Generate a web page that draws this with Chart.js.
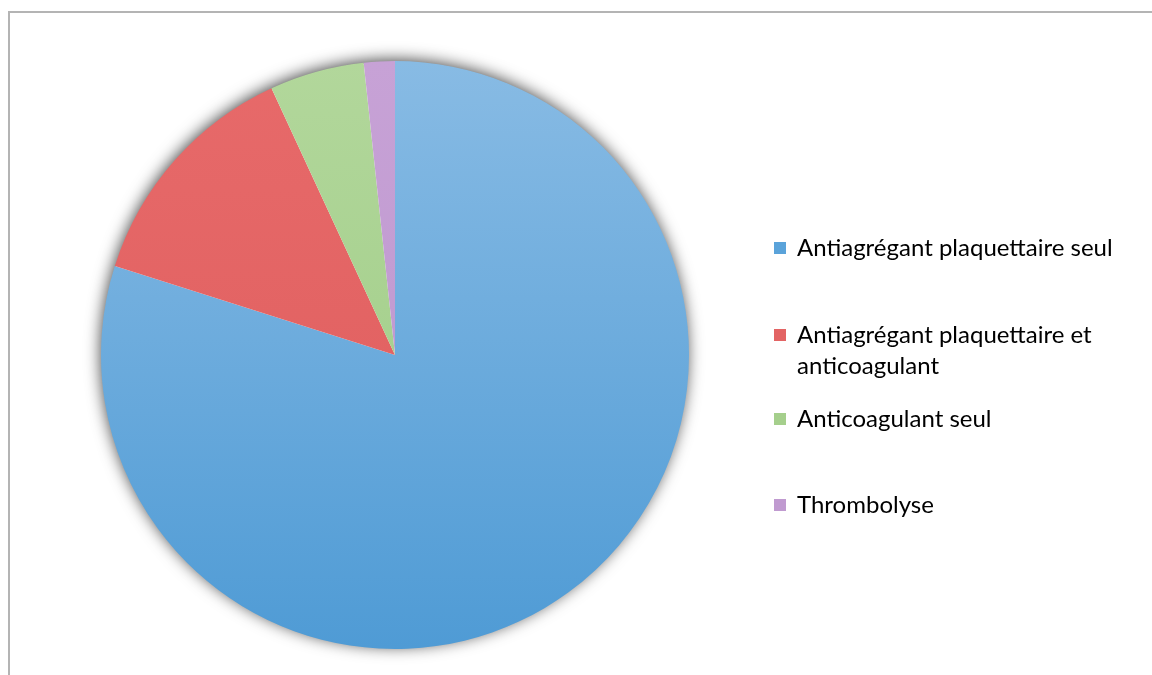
<!DOCTYPE html>
<html>
<head>
<meta charset="utf-8">
<script src="https://cdn.jsdelivr.net/npm/chart.js@4"></script>
<style>
  html, body { margin: 0; padding: 0; background: #fff; }
  #wrap { width: 1152px; height: 675px; position: relative; }
</style>
</head>
<body>
<div id="wrap"><canvas id="pie"></canvas></div>
<script>
const labels = [
  'Antiagrégant plaquettaire seul',
  'Antiagrégant plaquettaire et anticoagulant',
  'Anticoagulant seul',
  'Thrombolyse'
]
const values = [79.9, 13.2, 5.2, 1.7]
// legend lines (wrapped like the original)
const legendLines = [
  ['Antiagrégant plaquettaire seul'],
  ['Antiagrégant plaquettaire et', 'anticoagulant'],
  ['Anticoagulant seul'],
  ['Thrombolyse']
]
const topColors = ['#88bbe4', '#e76a6a', '#b2d79b', '#c7a2d6']
const bottomColors = ['#4f9bd5', '#de5c5c', '#9ccb83', '#bb93cc']
const legendColors = ['#5aa3da', '#e36464', '#a5cf8c', '#c09ad0']

const fontFamily = 'Lato, "Open Sans", sans-serif'

const sliceFill = (ctx) => {
  const chart = ctx.chart
  const area = chart.chartArea
  if (!area) return topColors[ctx.dataIndex]
  const g = chart.ctx.createLinearGradient(0, area.top, 0, area.bottom)
  g.addColorStop(0, topColors[ctx.dataIndex])
  g.addColorStop(1, bottomColors[ctx.dataIndex])
  return g
}

const framePlugin = {
  id: 'frame',
  beforeDraw(chart) {
    const c = chart.ctx
    c.save()
    c.strokeStyle = '#b4b4b4'
    c.lineWidth = 2
    c.beginPath()
    c.moveTo(9, 675)
    c.lineTo(9, 12)
    c.lineTo(1152, 12)
    c.stroke()
    c.restore()
  }
}

const shadowPlugin = {
  id: 'shadow',
  beforeDatasetsDraw(chart) {
    const arc = chart.getDatasetMeta(0).data[0]
    if (!arc) return
    const c = chart.ctx
    c.save()
    c.shadowColor = 'rgba(0,0,0,0.75)'
    c.shadowBlur = 16
    c.shadowOffsetX = -1
    c.shadowOffsetY = -2
    c.fillStyle = '#ffffff'
    c.beginPath()
    c.arc(arc.x, arc.y, arc.outerRadius - 1, 0, Math.PI * 2)
    c.fill()
    c.restore()
  }
}

const legendPlugin = {
  id: 'sideLegend',
  afterDraw(chart) {
    const c = chart.ctx
    const x0 = 774
    const tops = [248, 335, 419, 505]
    c.save()
    c.font = '24px ' + fontFamily
    c.textBaseline = 'middle'
    legendLines.forEach((lines, i) => {
      const y = tops[i]
      c.fillStyle = legendColors[i]
      c.fillRect(x0, y - 6, 12, 12)
      c.fillStyle = '#000'
      lines.forEach((t, j) => {
        c.fillText(t, x0 + 23, y + j * 31)
      })
    })
    c.restore()
  }
}

new Chart(document.getElementById('pie'), {
  type: 'pie',
  data: {
    labels: labels,
    datasets: [{
      data: values,
      backgroundColor: sliceFill,
      borderWidth: 0
    }]
  },
  options: {
    responsive: true,
    maintainAspectRatio: false,
    animation: false,
    layout: { padding: { top: 61, bottom: 26, left: 101, right: 463 } },
    plugins: {
      legend: { display: false },
      tooltip: { enabled: false }
    }
  },
  plugins: [framePlugin, shadowPlugin, legendPlugin]
})
</script>
</body>
</html>
